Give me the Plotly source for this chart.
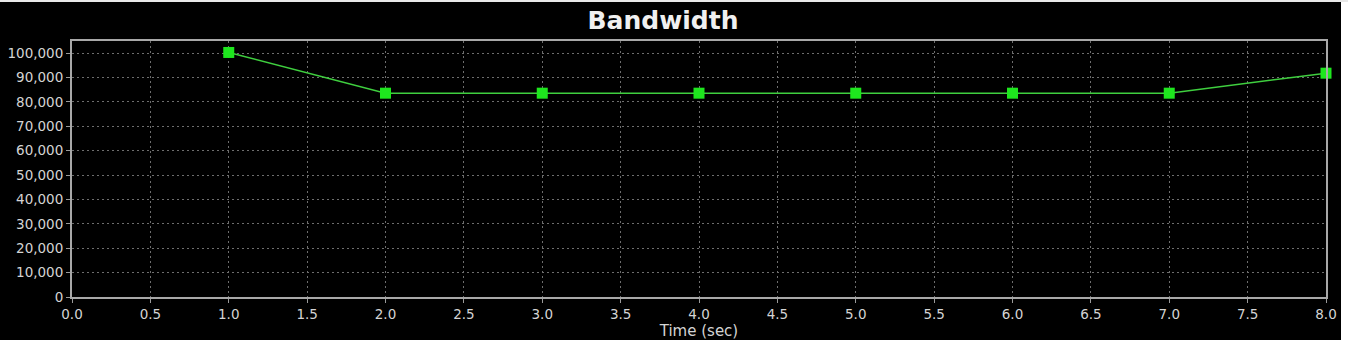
import plotly.graph_objects as go

time_sec = [1.0, 2.0, 3.0, 4.0, 5.0, 6.0, 7.0, 8.0]
bandwidth = [100300, 83600, 83600, 83600, 83600, 83600, 83600, 91800]
x_ticks = [0.0, 0.5, 1.0, 1.5, 2.0, 2.5, 3.0, 3.5, 4.0, 4.5, 5.0, 5.5, 6.0, 6.5, 7.0, 7.5, 8.0]
y_ticks = [0, 10000, 20000, 30000, 40000, 50000, 60000, 70000, 80000, 90000, 100000]

W, H = 1348, 340
L, R, T, B = 72, 22, 41, 43
pw, ph = W - L - R, H - T - B

fig = go.Figure()
fig.add_trace(go.Scatter(
    x=time_sec, y=bandwidth, mode="lines+markers",
    line=dict(color="#3fcf3f", width=1.5),
    marker=dict(symbol="square", size=11, color="#1ee61e"),
    cliponaxis=False, showlegend=False,
))

axis_common = dict(
    showgrid=True, gridcolor="#6e6e6e", griddash="2px,3px", gridwidth=1,
    showline=True, linecolor="#a8a8a8", linewidth=2, mirror=True,
    ticks="outside", tickcolor="#999999", ticklen=4,
    tickfont=dict(family="DejaVu Sans", size=13.5, color="#d4d4d4"),
    zeroline=False, automargin=False,
)

fig.update_layout(
    width=W, height=H,
    margin=dict(l=L, r=R, t=T, b=B, autoexpand=False),
    paper_bgcolor="#000000", plot_bgcolor="#000000",
    title=dict(text="<b>Bandwidth</b>", x=663 / W, xanchor="center",
               y=1 - 20 / H, yanchor="middle",
               font=dict(family="DejaVu Sans", size=25, color="#f0f0f0")),
    xaxis=dict(range=[0, 8], tickvals=x_ticks, ticktext=[f"{v:.1f}" for v in x_ticks],
               title=dict(text="Time (sec)", font=dict(family="DejaVu Sans", size=15, color="#d4d4d4"),
                          standoff=5),
               **axis_common),
    yaxis=dict(range=[0, 105000], tickvals=y_ticks, ticktext=[f"{v:,}" for v in y_ticks],
               **axis_common),
    shapes=[
        dict(type="rect", xref="paper", yref="paper",
             x0=(W - 7 - L) / pw, x1=(W + 5 - L) / pw, y0=-0.3, y1=1.3,
             fillcolor="#ffffff", line=dict(width=0), layer="above"),
        dict(type="rect", xref="paper", yref="paper",
             x0=-0.2, x1=1.2, y0=(H - B - 2) / ph, y1=(H - B + 5) / ph,
             fillcolor="#e8e8e8", line=dict(width=0), layer="above"),
    ],
)

fig.write_html("out.html")
